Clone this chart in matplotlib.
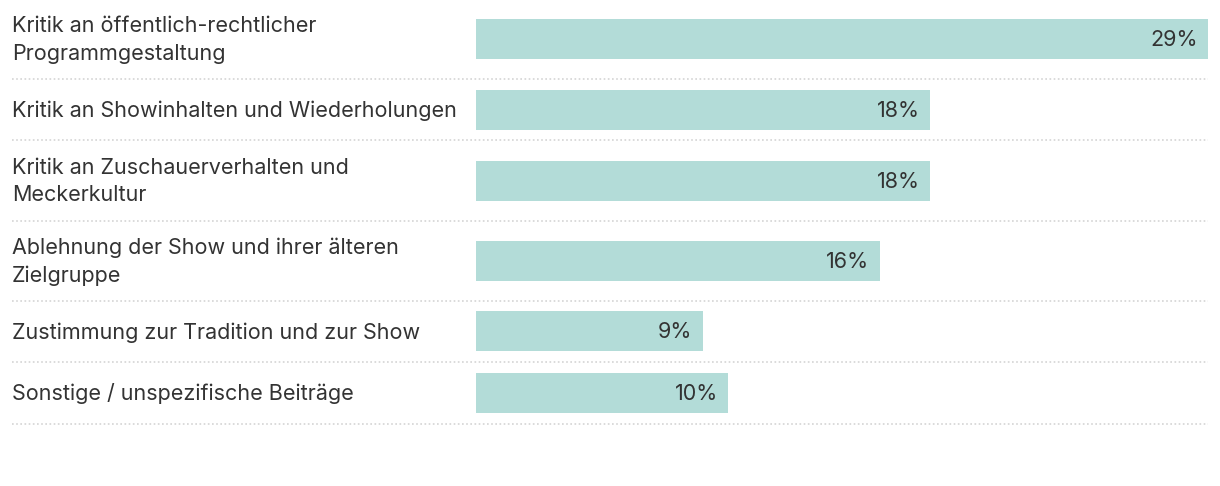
import matplotlib.pyplot as plt
from matplotlib.transforms import blended_transform_factory

plt.rcParams['font.family'] = ['Inter', 'DejaVu Sans']

labels = [
    "Kritik an öffentlich-rechtlicher\nProgrammgestaltung",
    "Kritik an Showinhalten und Wiederholungen",
    "Kritik an Zuschauerverhalten und\nMeckerkultur",
    "Ablehnung der Show und ihrer älteren\nZielgruppe",
    "Zustimmung zur Tradition und zur Show",
    "Sonstige / unspezifische Beiträge",
]
values = [29, 18, 18, 16, 9, 10]

W, H = 1220, 486
fig = plt.figure(figsize=(W / 100, H / 100), dpi=100)
ax = fig.add_axes([476 / W, 0, (1208 - 476) / W, 1])
ax.set_xlim(0, max(values))
ax.set_ylim(H, 0)
ax.axis('off')

bar_color = '#b3dcd8'
text_color = '#333333'
tr = blended_transform_factory(fig.transFigure, ax.transData)

# row heights depend on how many lines the label has
y = -1
centers, bottoms = [], []
for lab in labels:
    h = 80 if '\n' in lab else 61.5
    centers.append(y + h / 2)
    y += h
    bottoms.append(y)

ax.barh(centers, values, height=40, left=0, color=bar_color)

for c, b, lab, v in zip(centers, bottoms, labels, values):
    ax.text(12 / W, c + 1, lab, transform=tr, ha='left', va='center',
            fontsize=15.5, color=text_color, linespacing=1.45)
    ax.text(v - 0.42, c + 1, f"{v}%", ha='right', va='center',
            fontsize=15.5, color=text_color)
    ax.plot([12 / W, 1208 / W], [b, b], transform=tr, color='#d4d4d4',
            linestyle=(0, (1, 1.5)), linewidth=1.2, clip_on=False)

fig.savefig('out.png', dpi=100, facecolor='white')
